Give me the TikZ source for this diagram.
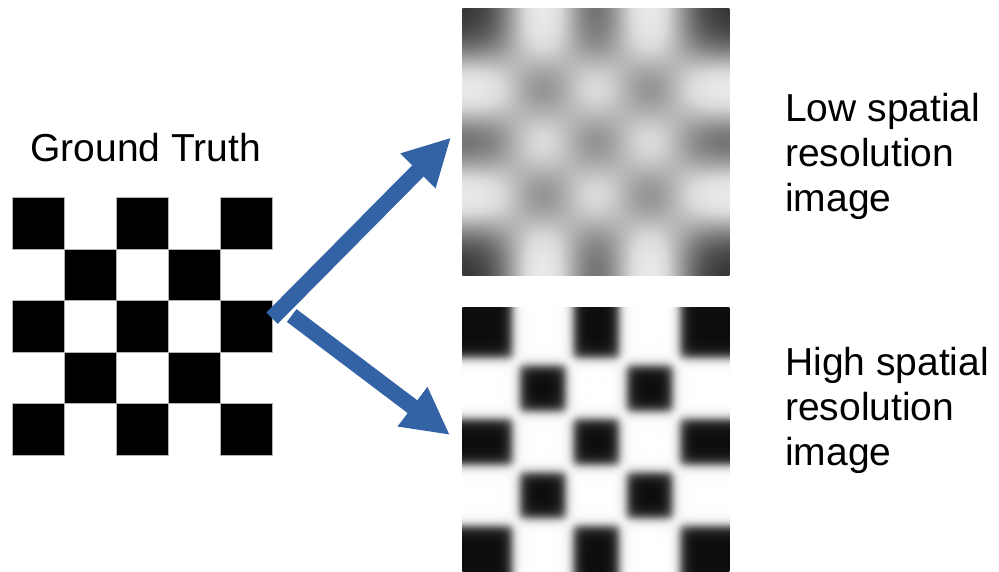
\documentclass[tikz,border=0pt]{standalone}
\usepackage{fontspec}
\setmainfont{Liberation Sans}
\usetikzlibrary{arrows.meta}
\definecolor{arrowblue}{RGB}{52,99,165}

\pgfdeclarefunctionalshading{lowres}{\pgfpoint{-50bp}{-50bp}}{\pgfpoint{50bp}{50bp}}{}{
25 exch sub 10 div exch 25 add 10 div
dup 180 mul sin 0.469 mul
1 index 3.78 mul 2.71828 exch exp 1 add 2 exch div add
1 index 1 add 3.78 mul 2.71828 exch exp 1 add 4 exch div sub
exch 5 exch sub
dup 3.78 mul 2.71828 exch exp 1 add 2 exch div
exch 1 add 3.78 mul 2.71828 exch exp 1 add 4 exch div sub
add
exch
dup 180 mul sin 0.469 mul
1 index 3.78 mul 2.71828 exch exp 1 add 2 exch div add
1 index 1 add 3.78 mul 2.71828 exch exp 1 add 4 exch div sub
exch 5 exch sub
dup 3.78 mul 2.71828 exch exp 1 add 2 exch div
exch 1 add 3.78 mul 2.71828 exch exp 1 add 4 exch div sub
add
mul -0.61 mul 0.72 add
dup 0.85 gt {0.85 sub 0.5 mul 0.85 add} if
dup 1 gt {pop 1} if dup 0 lt {pop 0} if
dup dup
}

\pgfdeclarefunctionalshading{highres}{\pgfpoint{-50bp}{-50bp}}{\pgfpoint{50bp}{50bp}}{}{
25 exch sub 10 div exch 25 add 10 div
dup 0.5 lt {pop 0.5} if dup 4.5 gt {pop 4.5} if
180 mul sin
exch
dup 0.5 lt {pop 0.5} if dup 4.5 gt {pop 4.5} if
180 mul sin
2 copy
0.25 sub -6 mul 2.71828 exch exp 1 add 1 exch div
exch
0.25 sub -6 mul 2.71828 exch exp 1 add 1 exch div
mul
3 1 roll
neg 0.25 sub -6 mul 2.71828 exch exp 1 add 1 exch div
exch
neg 0.25 sub -6 mul 2.71828 exch exp 1 add 1 exch div
mul add
-0.97 mul 1 add
dup 1 gt {pop 1} if dup 0 lt {pop 0} if
dup dup
}

\tikzset{
  lbl/.style={font=\fontsize{39}{45}\selectfont, inner sep=0pt, text=black},
  gtsq/.style={fill=black, draw=gray!60, line width=0.7pt},
  imgbox/.style={minimum width=267pt, minimum height=267.4pt, inner sep=0pt, outer sep=0pt, anchor=north west, shade},
  bigarrow/.style={draw=arrowblue, line width=16pt, -{Triangle[width=46pt,length=47pt]}},
}

\begin{document}
\begin{tikzpicture}[x=1pt,y=-1pt]
\clip (0,0) rectangle (999,571);
\fill[white] (0,0) rectangle (999,571);

% ground truth board
\node[minimum width=260pt, minimum height=258pt, inner sep=0pt, anchor=north west] (gt) at (12.7,197.3) {};
\foreach \c/\r in {0/0,2/0,4/0,1/1,3/1,0/2,2/2,4/2,1/3,3/3,0/4,2/4,4/4}
  \filldraw[gtsq] ({12.7+52*\c},{197.3+51.6*\r}) rectangle +(52,51.6);
\node[lbl, anchor=base] (gtlabel) at (145.8,161.7) {Ground Truth};

% images
\node[imgbox, shading=lowres] (low) at (462.3,8.3) {};
\node[imgbox, shading=highres] (high) at (462.3,307.7) {};

% labels
\node[lbl, anchor=base west] (low1) at (785,121.7) {Low spatial};
\node[lbl, anchor=base west] (low2) at (785,166.7) {resolution};
\node[lbl, anchor=base west] (low3) at (785,211.7) {image};
\node[lbl, anchor=base west] (high1) at (785,375) {High spatial};
\node[lbl, anchor=base west] (high2) at (785,420) {resolution};
\node[lbl, anchor=base west] (high3) at (785,465) {image};

% arrows
\coordinate (t1) at (272,318.2);
\coordinate (h1) at (451,137.5);
\coordinate (t2) at (291.7,315.5);
\coordinate (h2) at (450,435);
\draw[bigarrow] (t1) -- (h1);
\draw[bigarrow] (t2) -- (h2);
\end{tikzpicture}
\end{document}
